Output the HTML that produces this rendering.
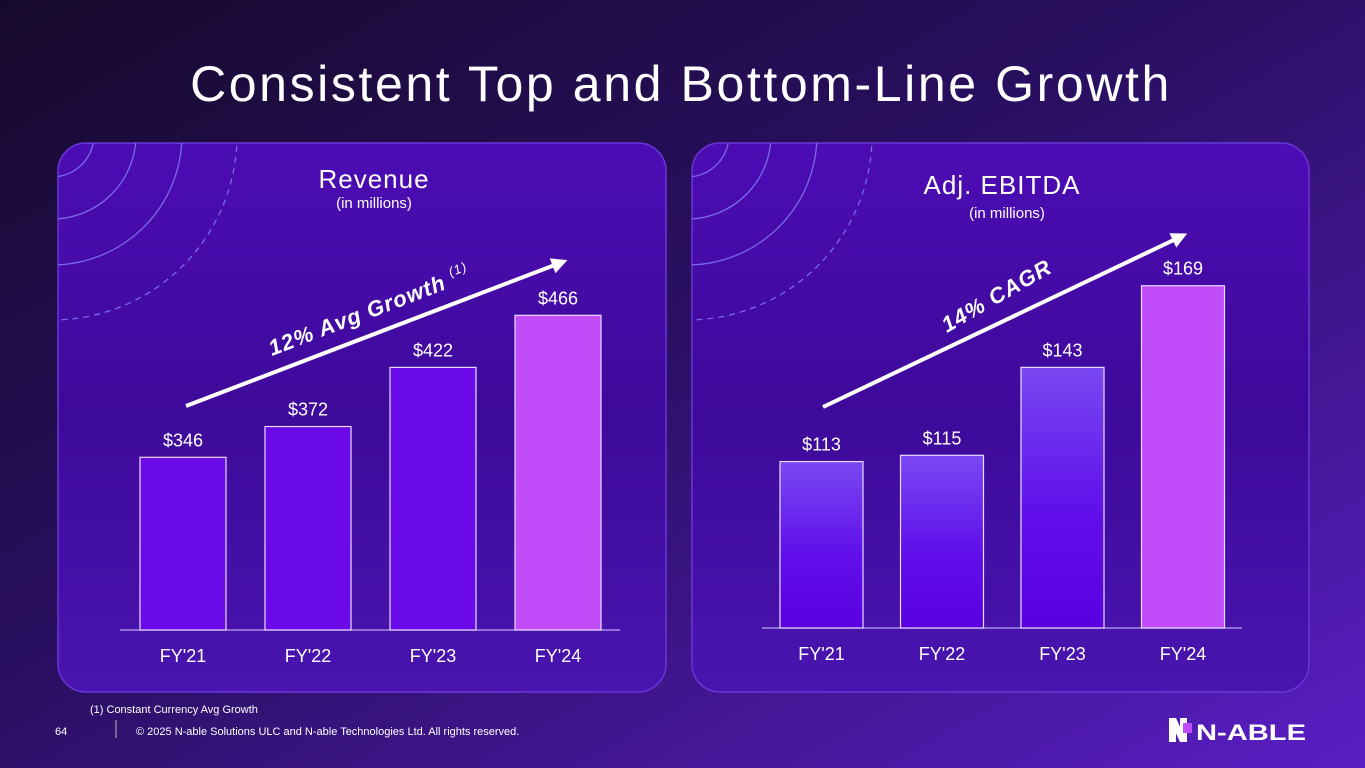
<!DOCTYPE html>
<html><head><meta charset="utf-8">
<style>
html,body{margin:0;padding:0;width:1365px;height:768px;overflow:hidden;font-family:"Liberation Sans",sans-serif;}
svg{display:block}
</style></head>
<body>
<svg id="slide" width="1365" height="768" viewBox="0 0 1365 768" xmlns="http://www.w3.org/2000/svg">
<defs>
<linearGradient id="bg" x1="0" y1="0" x2="1" y2="1">
<stop offset="0" stop-color="#160a2c"/><stop offset="0.45" stop-color="#2a0f62"/><stop offset="1" stop-color="#5a1ec4"/>
</linearGradient>
<linearGradient id="panel" x1="0" y1="0" x2="0" y2="1">
<stop offset="0" stop-color="#4c0cb4"/><stop offset="0.5" stop-color="#3e0a9a"/><stop offset="1" stop-color="#4a14b0"/>
</linearGradient>
<linearGradient id="ebar" x1="0" y1="0" x2="0" y2="1">
<stop offset="0" stop-color="#7a48f2"/><stop offset="0.55" stop-color="#6010ea"/><stop offset="1" stop-color="#5a00e0"/>
</linearGradient>
<clipPath id="c1"><rect x="58" y="143" width="608" height="549" rx="28"/></clipPath>
<clipPath id="c2"><rect x="692" y="143" width="617" height="549" rx="28"/></clipPath>
<marker id="ah" markerWidth="4" markerHeight="4" refX="2" refY="2" orient="auto" markerUnits="strokeWidth"><path d="M0,0 L4,2 L0,4 z" fill="#fff"/></marker>
</defs>
<rect width="1365" height="768" fill="url(#bg)"/>
<text x="681" y="101" text-anchor="middle" fill="#fff" font-size="50" letter-spacing="2.6">Consistent Top and Bottom-Line Growth</text>

<g id="p1">
<rect x="58" y="143" width="608" height="549" rx="28" fill="url(#panel)" stroke="#6a36d8" stroke-width="1.5"/>
<g clip-path="url(#c1)" fill="none" stroke="#7a6ae8" stroke-width="1.3">
<circle cx="52" cy="135" r="42"/><circle cx="52" cy="135" r="84"/><circle cx="52" cy="135" r="130"/>
<circle cx="52" cy="135" r="185" stroke-dasharray="6 5"/>
</g>
<text x="374" y="188" text-anchor="middle" fill="#fff" font-size="26" letter-spacing="1">Revenue</text>
<text x="374" y="208" text-anchor="middle" fill="#fff" font-size="15">(in millions)</text>
<line x1="186" y1="406" x2="560" y2="263" stroke="#fff" stroke-width="4" marker-end="url(#ah)"/>
<text transform="translate(272,356) rotate(-21)" fill="#fff" font-size="22" font-weight="bold" font-style="italic" letter-spacing="1">12% Avg Growth <tspan font-size="13" dy="-10" font-weight="normal">(1)</tspan></text>
<line x1="120" y1="630" x2="620" y2="630" stroke="#b9a8f0" stroke-width="1.2"/>
<g id="bars1"></g>
</g>

<g id="p2">
<rect x="692" y="143" width="617" height="549" rx="28" fill="url(#panel)" stroke="#6a36d8" stroke-width="1.5"/>
<g clip-path="url(#c2)" fill="none" stroke="#7a6ae8" stroke-width="1.3">
<circle cx="687" cy="135" r="42"/><circle cx="687" cy="135" r="84"/><circle cx="687" cy="135" r="130"/>
<circle cx="687" cy="135" r="185" stroke-dasharray="6 5"/>
</g>
<text x="1002" y="194" text-anchor="middle" fill="#fff" font-size="26" letter-spacing="1">Adj. EBITDA</text>
<text x="1007" y="218" text-anchor="middle" fill="#fff" font-size="15">(in millions)</text>
<line x1="823" y1="407" x2="1180" y2="237" stroke="#fff" stroke-width="4" marker-end="url(#ah)"/>
<text transform="translate(947,333) rotate(-30)" fill="#fff" font-size="22" font-weight="bold" font-style="italic" letter-spacing="1">14% CAGR</text>
<line x1="762" y1="628" x2="1242" y2="628" stroke="#b9a8f0" stroke-width="1.2"/>
<g id="bars2"></g>
</g>

<text x="90" y="713" fill="#fff" font-size="11">(1) Constant Currency Avg Growth</text>
<text x="55" y="735" fill="#fff" font-size="11">64</text>
<line x1="116" y1="720" x2="116" y2="738" stroke="#bbb" stroke-width="1"/>
<text x="136" y="735" fill="#fff" font-size="11">© 2025 N-able Solutions ULC and N-able Technologies Ltd. All rights reserved.</text>
<g>
<rect x="1169" y="718" width="7" height="24" fill="#fff"/>
<rect x="1180" y="718" width="7" height="24" fill="#fff"/>
<polygon points="1169,718 1176,718 1187,742 1180,742" fill="#fff"/>
<rect x="1183" y="723" width="9" height="10" fill="#c04cfa"/>
<text x="1196" y="740" fill="#fff" font-size="22" font-weight="bold" textLength="110" lengthAdjust="spacingAndGlyphs">N-ABLE</text>
</g>
</svg>
<script>
const revCategories = ["FY'21","FY'22","FY'23","FY'24"];
const revValues = [346,372,422,466];
const revLabels = ["$346","$372","$422","$466"];
const ebitdaCategories = ["FY'21","FY'22","FY'23","FY'24"];
const ebitdaValues = [113,115,143,169];
const ebitdaLabels = ["$113","$115","$143","$169"];

const NS="http://www.w3.org/2000/svg";
function mk(tag,attrs,parent){const e=document.createElementNS(NS,tag);for(const k in attrs)e.setAttribute(k,attrs[k]);parent.appendChild(e);return e;}
function drawChart(gid,cats,vals,labels,cfg){
  const g=document.getElementById(gid);
  const y=v=>cfg.base-(v-cfg.min)*cfg.scale;
  cats.forEach((c,i)=>{
    const x=cfg.x0+i*cfg.step;
    const top=y(vals[i]);
    const fill=i===cats.length-1?"#c04cfa":cfg.fill;
    const r=mk("rect",{x:x,y:top,width:cfg.w,height:cfg.base-top,fill:fill,stroke:"#e8dcff","stroke-width":1.2},g);
    
    
    const t=mk("text",{x:x+cfg.w/2,y:top-11,"text-anchor":"middle",fill:"#fff","font-size":18},g);
    t.textContent=labels[i];
    
    
    const a=mk("text",{x:x+cfg.w/2,y:cfg.base+32,"text-anchor":"middle",fill:"#fff","font-size":18},g);
    a.textContent=c;
    
    
  });
}
drawChart("bars1",revCategories,revValues,revLabels,{x0:140,step:125,w:86,base:630,min:200,scale:1.183,fill:"#6a0ae8"});
drawChart("bars2",ebitdaCategories,ebitdaValues,ebitdaLabels,{x0:780,step:120.5,w:83,base:628,min:60,scale:3.14,fill:"url(#ebar)"});
</script>
</body></html>
